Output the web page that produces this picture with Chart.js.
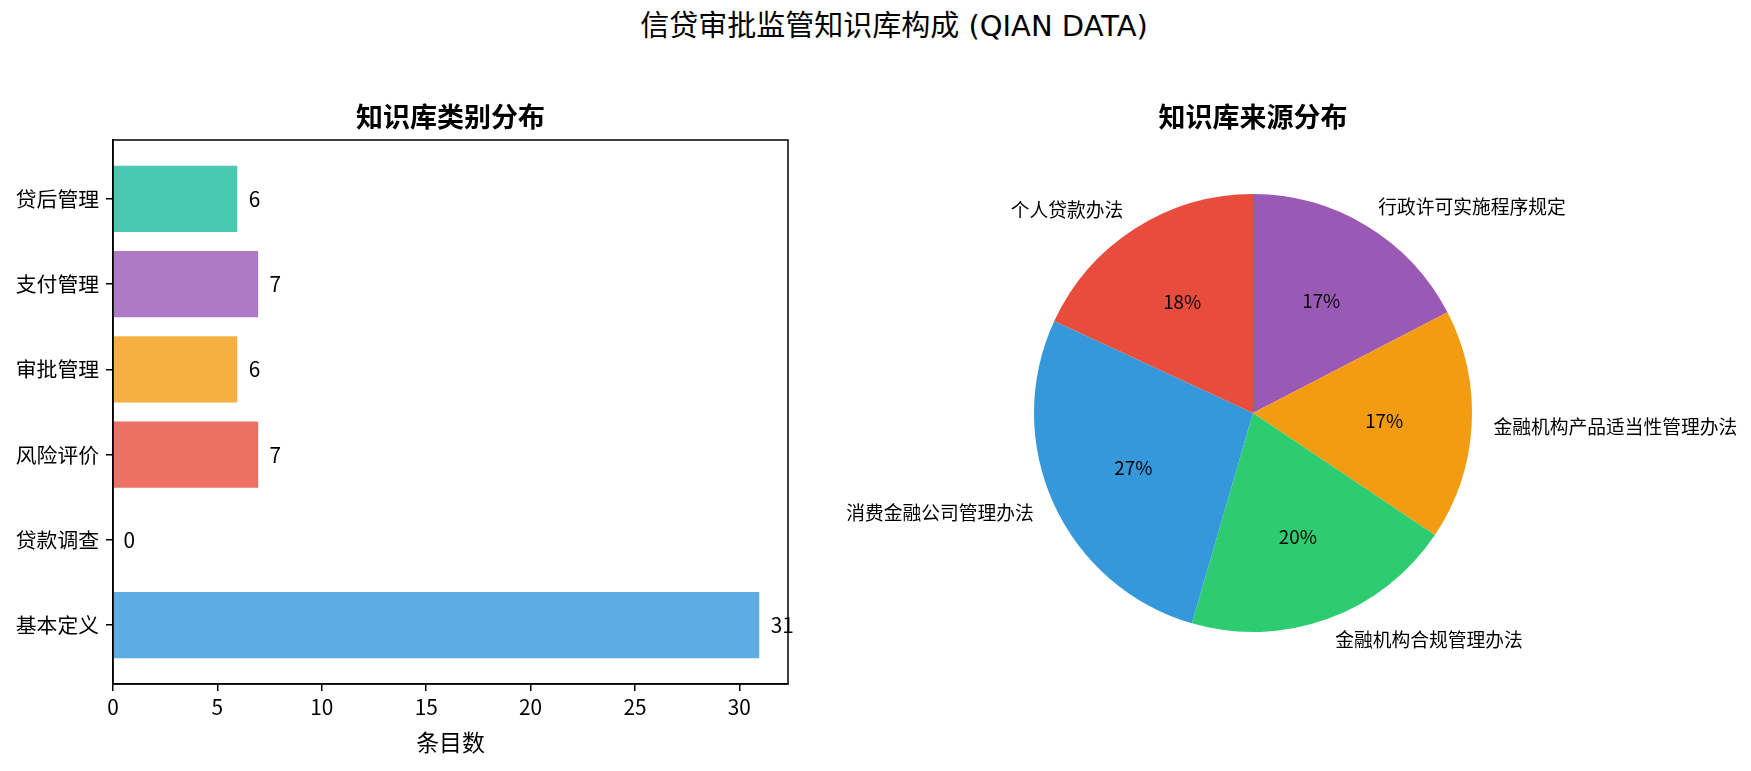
<!DOCTYPE html>
<html lang="zh">
<head>
<meta charset="UTF-8">
<title>信贷审批监管知识库构成</title>
<style>
  body { margin: 0; background: #fff; }
  #wrap { position: relative; width: 1751px; height: 771px; overflow: hidden; }
  #suptitle { position: absolute; left: 894px; top: 8px; transform: translateX(-50%);
              font: 29px 'DejaVu Sans', 'Noto Sans CJK SC'; line-height: 36px; white-space: nowrap; color: #000; }
  #barChart { position: absolute; left: 0; top: 0; }
  #pieChart { position: absolute; left: 0; top: 0; }
</style>
</head>
<body>
<script src="https://cdn.jsdelivr.net/npm/chart.js"></script>
<div id="wrap">
  <div id="suptitle">信贷审批监管知识库构成 (QIAN DATA)</div>
  <canvas id="barChart" width="875" height="771"></canvas>
  <canvas id="pieChart" width="1751" height="771"></canvas>
</div>

<script>
  // 左图：类别分布（从下到上）
  const categories = ['基本定义', '贷款调查', '风险评价', '审批管理', '支付管理', '贷后管理'];
  const counts = [31, 0, 7, 6, 7, 6];
  const barColors = ['#5dade2', '#58d68d', '#ec7063', '#f5b041', '#af7ac5', '#48c9b0'];
  const xTicks = [0, 5, 10, 15, 20, 25, 30];

  // 右图：来源分布（逆时针，从顶部开始）
  const sources = ['个人贷款办法', '消费金融公司管理办法', '金融机构合规管理办法', '金融机构产品适当性管理办法', '行政许可实施程序规定'];
  const shares = [18.1, 27.4, 20.1, 17.0, 17.4];
  const pieColors = ['#e74c3c', '#3498db', '#2ecc71', '#f39c12', '#9b59b6'];

  const FONT = "'Noto Sans CJK SC'";
  Chart.defaults.font.family = FONT;
  Chart.defaults.color = '#000';

  // 子图标题
  const axTitle = {
    id: 'axTitle',
    afterDraw(chart, args, opts) {
      const c = chart.ctx, ca = chart.chartArea;
      c.save();
      c.font = 'bold 27px ' + FONT;
      c.fillStyle = '#000';
      c.textAlign = 'center';
      c.textBaseline = 'middle';
      c.fillText(opts.text, (ca.left + ca.right) / 2, 117);
      c.restore();
    }
  };

  // 坐标框
  const frame = {
    id: 'frame',
    afterDraw(chart) {
      const c = chart.ctx, ca = chart.chartArea;
      c.save();
      c.strokeStyle = '#000';
      c.lineWidth = 1.5;
      c.strokeRect(ca.left, ca.top, ca.width, ca.height);
      c.restore();
    }
  };

  // 柱子右侧的数值
  const valueLabels = {
    id: 'valueLabels',
    afterDatasetsDraw(chart) {
      const c = chart.ctx, xs = chart.scales.x;
      const meta = chart.getDatasetMeta(0);
      c.save();
      c.font = '20.8px ' + FONT;
      c.fillStyle = '#000';
      c.textAlign = 'left';
      c.textBaseline = 'middle';
      meta.data.forEach((bar, i) => {
        c.fillText(String(counts[i]), xs.getPixelForValue(counts[i] + 0.5), bar.y);
      });
      c.restore();
    }
  };

  new Chart(document.getElementById('barChart'), {
    type: 'bar',
    data: {
      datasets: [{
        data: counts.map((v, i) => ({ x: v, y: i })),
        backgroundColor: barColors,
        borderColor: '#ffffff',
        borderWidth: 1,
        barPercentage: 0.8,
        categoryPercentage: 1.0
      }]
    },
    options: {
      indexAxis: 'y',
      responsive: false,
      animation: false,
      layout: { padding: { top: 140, right: 87, bottom: 0, left: 0 } },
      plugins: { legend: { display: false }, tooltip: { enabled: false }, axTitle: { text: '知识库类别分布' } },
      scales: {
        x: {
          type: 'linear',
          min: 0,
          max: 32.33,
          afterBuildTicks: s => { s.ticks = xTicks.map(v => ({ value: v })); },
          afterFit: s => { s.height = 87; },
          ticks: { font: { size: 20.8 }, padding: 4, color: '#000', maxRotation: 0 },
          grid: { drawOnChartArea: false, drawTicks: true, tickLength: 7, color: '#000', lineWidth: 1.5 },
          border: { color: '#000', width: 1.5 },
          title: { display: true, text: '条目数', font: { size: 22.9 }, padding: { top: 0, bottom: 15 }, color: '#000' }
        },
        y: {
          type: 'linear',
          min: -0.69,
          max: 5.69,
          offset: false,
          afterBuildTicks: s => { s.ticks = categories.map((c, i) => ({ value: i })); },
          afterFit: s => { s.width = 113; },
          ticks: { font: { size: 20.8 }, padding: 7, color: '#000', callback: v => categories[v] },
          grid: { offset: false, drawOnChartArea: false, drawTicks: true, tickLength: 7, color: '#000', lineWidth: 1.5 },
          border: { color: '#000', width: 1.5 }
        }
      }
    },
    plugins: [valueLabels, frame, axTitle]
  });

  // 饼图标签：外侧名称 + 内侧百分比
  const total = shares.reduce((a, b) => a + b, 0);
  const pieLabels = {
    id: 'pieLabels',
    afterDatasetsDraw(chart) {
      const c = chart.ctx;
      const meta = chart.getDatasetMeta(0);
      const labels = chart.data.labels, vals = chart.data.datasets[0].data;
      c.save();
      c.font = '18.75px ' + FONT;
      c.fillStyle = '#000';
      c.textBaseline = 'middle';
      meta.data.forEach((arc, i) => {
        const mid = (arc.startAngle + arc.endAngle) / 2;
        const r = arc.outerRadius;
        const cos = Math.cos(mid), sin = Math.sin(mid);
        c.textAlign = 'center';
        c.fillText(Math.round(vals[i] / total * 100) + '%', arc.x + 0.6 * r * cos, arc.y + 0.6 * r * sin);
        c.textAlign = cos > 0.001 ? 'left' : (cos < -0.001 ? 'right' : 'center');
        c.fillText(labels[i], arc.x + 1.1 * r * cos, arc.y + 1.1 * r * sin);
      });
      c.restore();
    }
  };

  // Chart.js 顺时针绘制，所以把逆时针的顺序倒过来
  new Chart(document.getElementById('pieChart'), {
    type: 'pie',
    data: {
      labels: sources.slice().reverse(),
      datasets: [{
        data: shares.slice().reverse(),
        backgroundColor: pieColors.slice().reverse(),
        borderWidth: 0
      }]
    },
    options: {
      responsive: false,
      animation: false,
      layout: { padding: { top: 194, right: 279, bottom: 139, left: 1034 } },
      plugins: { legend: { display: false }, tooltip: { enabled: false }, axTitle: { text: '知识库来源分布' } }
    },
    plugins: [pieLabels, axTitle]
  });
</script>
</body>
</html>
